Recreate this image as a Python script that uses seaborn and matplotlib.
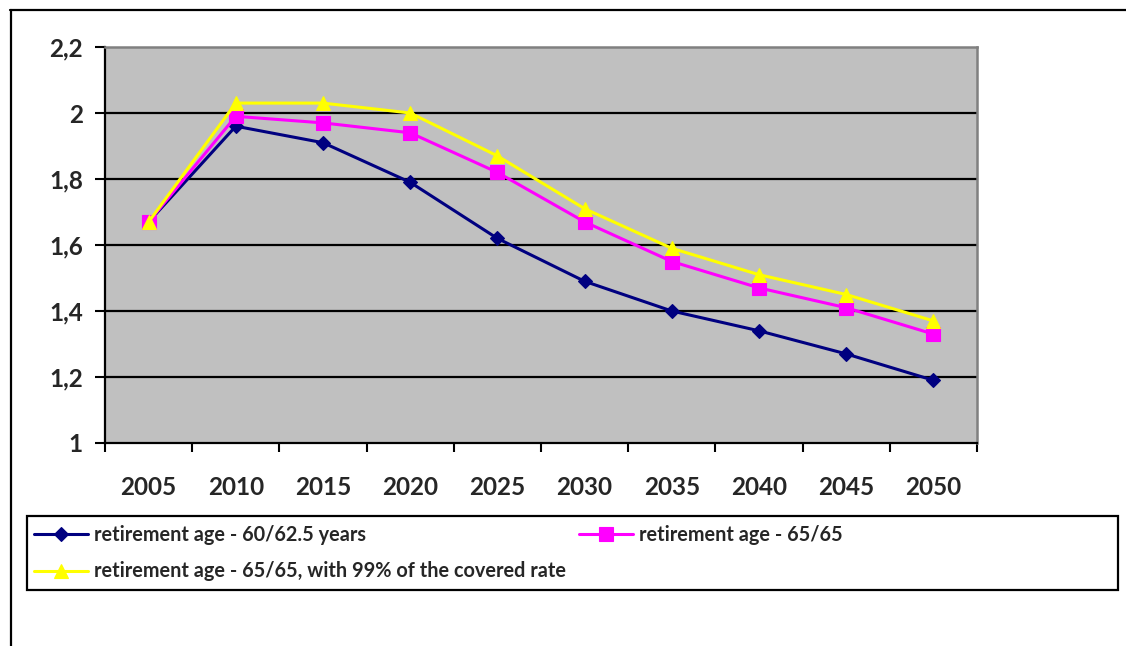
import numpy as np
import pandas as pd
import matplotlib
matplotlib.use("Agg")
import matplotlib.pyplot as plt
from matplotlib.lines import Line2D
from matplotlib.patches import Rectangle
from matplotlib.ticker import FixedLocator, FuncFormatter
import seaborn as sns

# ---- data -------------------------------------------------------------
years = ["2005", "2010", "2015", "2020", "2025", "2030", "2035", "2040", "2045", "2050"]
age_60_62 = [1.67, 1.96, 1.91, 1.79, 1.62, 1.49, 1.40, 1.34, 1.27, 1.19]
age_65_65 = [1.67, 1.99, 1.97, 1.94, 1.82, 1.67, 1.55, 1.47, 1.41, 1.33]
age_65_65_99 = [1.67, 2.03, 2.03, 2.00, 1.87, 1.71, 1.59, 1.51, 1.45, 1.37]
series_names = [
    "retirement age - 60/62.5 years",
    "retirement age - 65/65",
    "retirement age - 65/65, with 99% of the covered rate",
]
y_ticks = [1.0, 1.2, 1.4, 1.6, 1.8, 2.0, 2.2]

# ---- styling ----------------------------------------------------------
sns.set_style("white")
plt.rcParams["font.family"] = ["Lato", "DejaVu Sans"]
WEIGHT = "bold"
plt.rcParams["font.weight"] = WEIGHT

colors = ["#000080", "#FF00FF", "#FFFF00"]
markers = ["D", "s", "^"]
msizes = [7.4, 10.0, 10.5]

W, H = 1126, 646
fig = plt.figure(figsize=(W / 100, H / 100), dpi=100)
ax = fig.add_axes([105 / W, 1 - 443 / H, 872 / W, 396 / H])
ax.set_facecolor("#C0C0C0")

pos = np.arange(len(years))
df = pd.DataFrame({
    "pos": np.tile(pos, 3),
    "value": age_60_62 + age_65_65 + age_65_65_99,
    "series": np.repeat(series_names, len(years)),
})

lines = []
for name, c, m, ms in zip(series_names, colors, markers, msizes):
    sub = df[df["series"] == name]
    sns.lineplot(data=sub, x="pos", y="value", ax=ax, color=c, marker=m,
                 markersize=ms, markeredgecolor=c, markeredgewidth=0.8,
                 linewidth=2.2, label=name, legend=False, zorder=3)
    lines.append(ax.lines[-1])

# axes limits and ticks
ax.set_xlim(-0.5, len(years) - 0.5)
ax.set_ylim(y_ticks[0], y_ticks[-1])
ax.set_xlabel("")
ax.set_ylabel("")

ax.set_xticks(pos)
ax.set_xticklabels(years)
ax.xaxis.set_minor_locator(FixedLocator(np.arange(-0.5, len(years), 1.0)))
ax.tick_params(axis="x", which="major", length=0, pad=24, labelsize=17.5)
ax.tick_params(axis="x", which="minor", length=6.5, width=1.5, direction="out",
               color="black", bottom=True)

ax.set_yticks(y_ticks)
ax.yaxis.set_major_formatter(FuncFormatter(lambda v, _: f"{v:g}".replace(".", ",")))
ax.tick_params(axis="y", which="major", length=7, width=1.5, direction="out",
               color="black", pad=9, labelsize=17.5, left=True)

# horizontal gridlines (interior only)
ax.yaxis.grid(True, color="black", linewidth=1.6, zorder=1)
ax.set_axisbelow(True)
gls = ax.get_ygridlines()
gls[0].set_visible(False)
gls[-1].set_visible(False)

for side in ("left", "bottom"):
    ax.spines[side].set_color("black")
    ax.spines[side].set_linewidth(1.6)
for side in ("top", "right"):
    ax.spines[side].set_color("#808080")
    ax.spines[side].set_linewidth(1.8)
    ax.spines[side].set_visible(True)

for lab in ax.get_xticklabels() + ax.get_yticklabels():
    lab.set_fontweight(WEIGHT)

# outer chart frame (top and left edges)
fig.add_artist(Line2D([10 / W, 1.0], [1 - 10 / H, 1 - 10 / H],
                      transform=fig.transFigure, color="black", linewidth=1.6))
fig.add_artist(Line2D([11 / W, 11 / W], [0.0, 1 - 10 / H],
                      transform=fig.transFigure, color="black", linewidth=1.6))

# legend box
fig.add_artist(Rectangle((27 / W, 1 - 590 / H), (1118 - 27) / W, (590 - 516) / H,
                         transform=fig.transFigure, fill=False,
                         edgecolor="black", linewidth=1.6))

leg_fs = 14.3
fs_px = leg_fs * 100 / 72
fig.legend([lines[0], lines[2], lines[1]],
           [series_names[0], series_names[2], series_names[1]],
           ncol=2, loc="upper left", bbox_to_anchor=(34 / W, 1 - 525 / H),
           bbox_transform=fig.transFigure, frameon=False, borderpad=0,
           borderaxespad=0, prop={"weight": WEIGHT, "size": leg_fs},
           handlelength=54 / fs_px, handletextpad=6 / fs_px,
           columnspacing=13 / fs_px, labelspacing=0.83)

fig.savefig("out.png", dpi=100, facecolor="white")
